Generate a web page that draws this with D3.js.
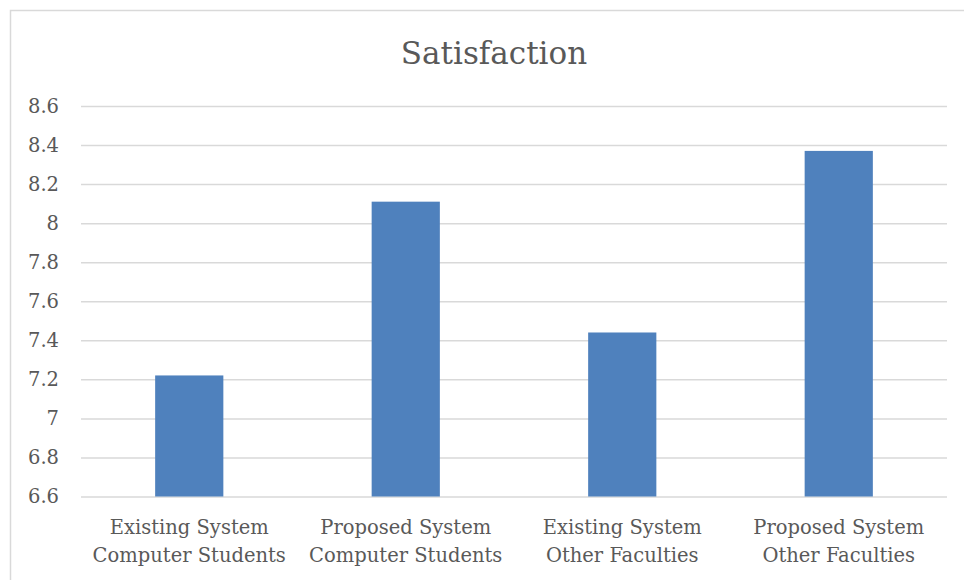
<!DOCTYPE html>
<html>
<head>
<meta charset="utf-8">
<script src="https://cdn.jsdelivr.net/npm/d3@7"></script>
<style>
  html, body { margin: 0; padding: 0; background: #ffffff; }
  svg { display: block; }
</style>
</head>
<body>
<svg id="chart" width="964" height="580"></svg>
<script>
const categories = [
  ["Existing System", "Computer Students"],
  ["Proposed System", "Computer Students"],
  ["Existing System", "Other Faculties"],
  ["Proposed System", "Other Faculties"]
];
const values = [7.22, 8.11, 7.44, 8.37];
const tickValues = [6.6, 6.8, 7.0, 7.2, 7.4, 7.6, 7.8, 8.0, 8.2, 8.4, 8.6];
const tickLabels = ["6.6", "6.8", "7", "7.2", "7.4", "7.6", "7.8", "8", "8.2", "8.4", "8.6"];
const title = "Satisfaction";

(function () {
const svg = d3.select("#chart");
const font = "'DejaVu Serif', serif";
const textColor = "#595959";

// chart border
svg.append("rect")
  .attr("x", 10.5).attr("y", 10.5)
  .attr("width", 1000).attr("height", 1000)
  .attr("fill", "#ffffff")
  .attr("stroke", "#d9d9d9").attr("stroke-width", 1.5);

const pLeft = 81, pRight = 947, pTop = 106, pBottom = 496.5;

const x = d3.scaleBand()
  .domain(d3.range(categories.length))
  .range([pLeft, pRight])
  .paddingInner(0.685)
  .paddingOuter(0.3425);

const y = d3.scaleLinear().domain([6.6, 8.6]).range([pBottom, pTop]);

// gridlines + y labels
const yAxis = d3.axisLeft(y)
  .tickValues(tickValues)
  .tickSize(-(pRight - pLeft))
  .tickPadding(22)
  .tickFormat((d, i) => tickLabels[i]);

const gy = svg.append("g")
  .attr("transform", `translate(${pLeft},0)`)
  .call(yAxis);
gy.select(".domain").remove();
gy.selectAll(".tick line").attr("stroke", "#d9d9d9").attr("stroke-width", 1.5);
gy.selectAll(".tick text")
  .attr("fill", textColor)
  .style("font-family", font)
  .style("font-size", "19.5px");

// bars
svg.append("g").selectAll("rect")
  .data(values)
  .join("rect")
  .attr("x", (d, i) => x(i))
  .attr("width", x.bandwidth())
  .attr("y", d => y(d))
  .attr("height", d => y(6.6) - y(d))
  .attr("fill", "#4f81bd");

// category labels
const gx = svg.append("g");
categories.forEach((lines, i) => {
  const cx = x(i) + x.bandwidth() / 2;
  const t = gx.append("text")
    .attr("x", cx)
    .attr("y", 534)
    .attr("text-anchor", "middle")
    .attr("fill", textColor)
    .style("font-family", font)
    .style("font-size", "19.5px");
  lines.forEach((ln, j) => {
    t.append("tspan").attr("x", cx).attr("y", 534 + j * 28).text(ln);
  });
});

// title
svg.append("text")
  .attr("x", 494).attr("y", 64)
  .attr("text-anchor", "middle")
  .attr("fill", textColor)
  .style("font-family", font)
  .style("font-size", "31px")
  .text(title);
})();
</script>
</body>
</html>
